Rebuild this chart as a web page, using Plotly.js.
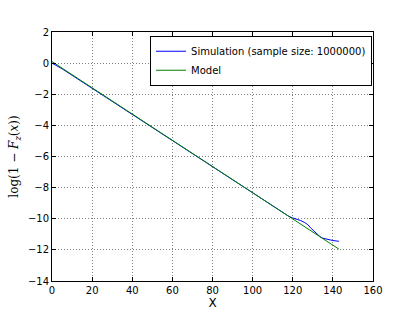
<!DOCTYPE html>
<html>
<head>
<meta charset="utf-8">
<script src="https://cdn.plot.ly/plotly-3.0.1.min.js"></script>
<style>html,body{margin:0;padding:0;background:#fff;}#chart{width:415px;height:312px;}</style>
</head>
<body>
<div id="chart"></div>
<script>
// Simulation (sample size: 1000000)
var simX = [0, 5, 10, 20, 30, 40, 50, 60, 70, 80, 90, 95, 100, 105, 110, 113, 115, 118, 120, 122, 124, 126, 127.5, 129, 130, 131, 132.5, 133.6, 135, 136.5, 138, 140, 143];
var simY = [0.0, -0.36, -0.78, -1.62, -2.47, -3.31, -4.16, -5.0, -5.85, -6.69, -7.53, -7.95, -8.36, -8.77, -9.17, -9.42, -9.6, -9.84, -9.95, -10.02, -10.12, -10.25, -10.38, -10.6, -10.72, -10.83, -10.98, -11.15, -11.25, -11.3, -11.36, -11.4, -11.45];
// Model
var modelX = [0, 143];
var modelY = [0.1, -11.95];
var xTicks = [0, 20, 40, 60, 80, 100, 120, 140, 160];
var yTicks = [-14, -12, -10, -8, -6, -4, -2, 0, 2];

var traces = [
  {x: simX, y: simY, mode: 'lines', name: 'Simulation (sample size: 1000000)', line: {color: '#0000ff', width: 1}},
  {x: modelX, y: modelY, mode: 'lines', name: 'Model', line: {color: '#008000', width: 1}}
];

var axisCommon = {
  showline: true, linecolor: '#000', linewidth: 1, mirror: 'ticks',
  ticks: 'inside', ticklen: 4, tickcolor: '#000',
  showgrid: true, gridcolor: '#808080', griddash: '1px,2px', gridwidth: 1,
  zeroline: false, tickfont: {family: 'DejaVu Sans', size: 10, color: '#000'}
};

var layout = {
  width: 415, height: 312,
  margin: {l: 52, r: 42, t: 32, b: 31},
  paper_bgcolor: '#fff', plot_bgcolor: '#fff',
  showlegend: true,
  legend: {x: 0.997, y: 0.985, xanchor: 'right', yanchor: 'top', bordercolor: '#000', borderwidth: 1, bgcolor: '#fff',
           font: {family: 'DejaVu Sans', size: 10, color: '#000'}, tracegroupgap: 0},
  xaxis: Object.assign({}, axisCommon, {range: [0, 160], tickvals: xTicks, ticktext: xTicks.map(String),
    title: {text: 'X', font: {family: 'DejaVu Sans', size: 12, color: '#000'}, standoff: 0}}),
  yaxis: Object.assign({}, axisCommon, {range: [-14, 2], tickvals: yTicks, ticktext: yTicks.map(function(v){return v < 0 ? '\u2212' + Math.abs(v) : String(v);}),
    title: {text: 'log(1 \u2212 <i>F</i><sub><i>z</i></sub>(<i>x</i>))', font: {family: 'DejaVu Serif', size: 12, color: '#000'}, standoff: 6}})
};

Plotly.newPlot('chart', traces, layout, {displayModeBar: false, staticPlot: true});
</script>
</body>
</html>
